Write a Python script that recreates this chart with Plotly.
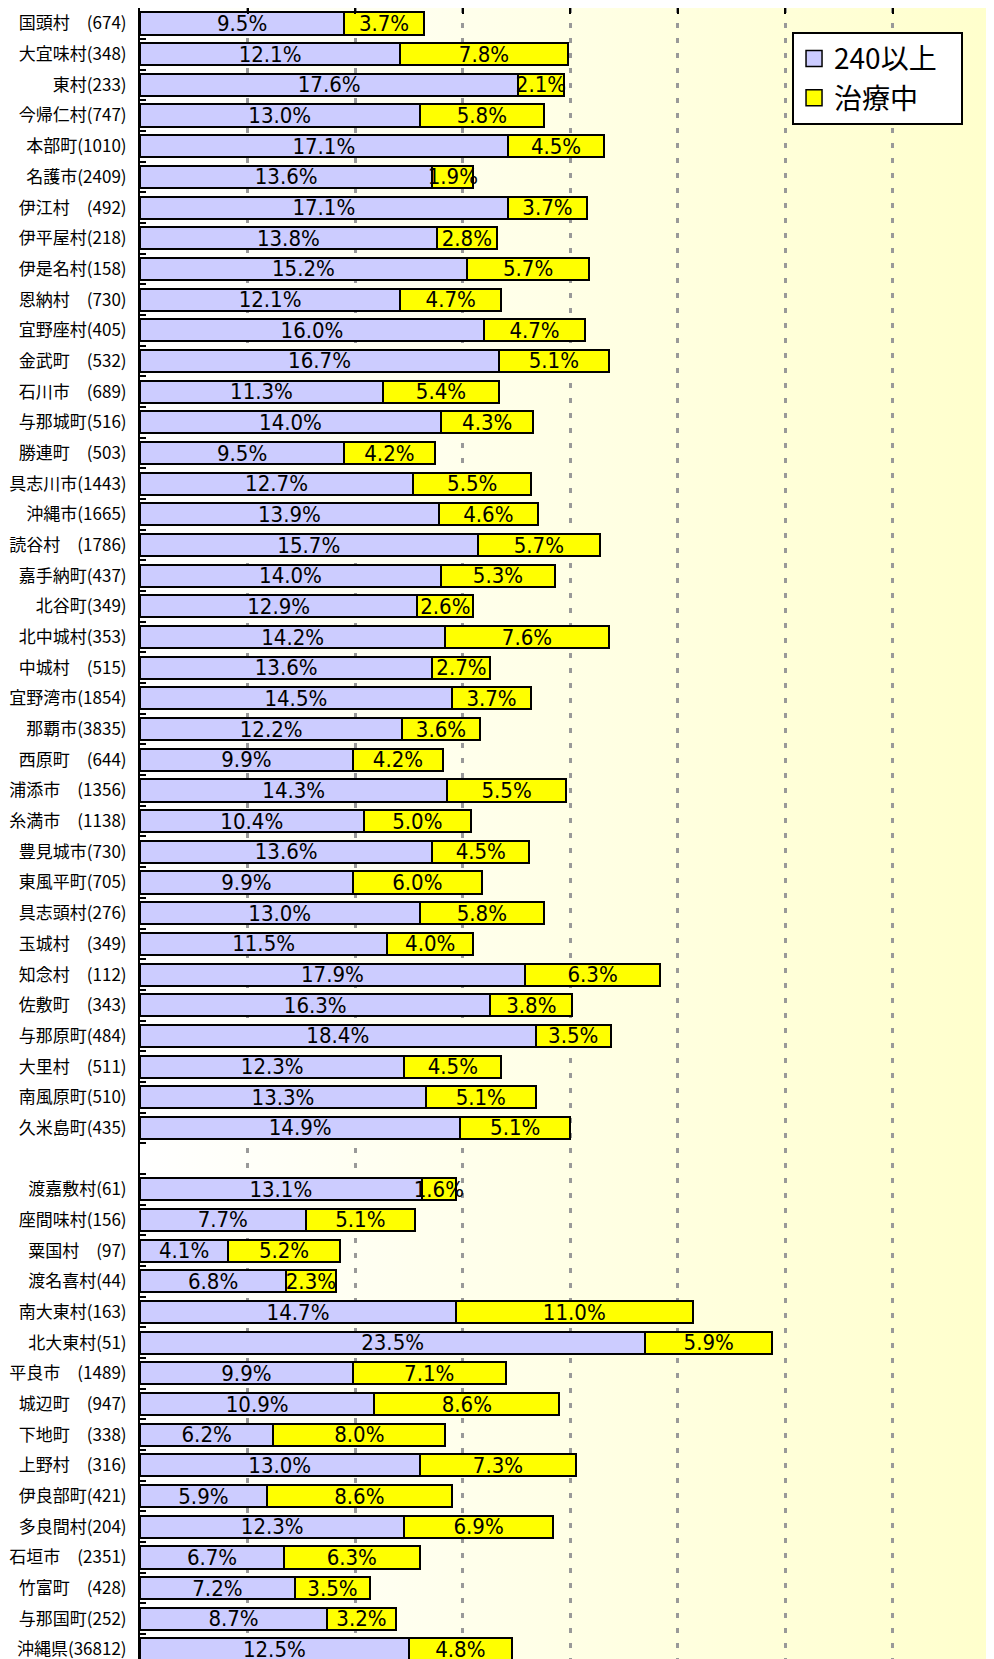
import base64
import plotly.graph_objects as go

# ---- data ----
labels = [
    "国頭村　(674)", "大宜味村(348)", "東村(233)", "今帰仁村(747)", "本部町(1010)",
    "名護市(2409)", "伊江村　(492)", "伊平屋村(218)", "伊是名村(158)", "恩納村　(730)",
    "宜野座村(405)", "金武町　(532)", "石川市　(689)", "与那城町(516)", "勝連町　(503)",
    "具志川市(1443)", "沖縄市(1665)", "読谷村　(1786)", "嘉手納町(437)", "北谷町(349)",
    "北中城村(353)", "中城村　(515)", "宜野湾市(1854)", "那覇市(3835)", "西原町　(644)",
    "浦添市　(1356)", "糸満市　(1138)", "豊見城市(730)", "東風平町(705)", "具志頭村(276)",
    "玉城村　(349)", "知念村　(112)", "佐敷町　(343)", "与那原町(484)", "大里村　(511)",
    "南風原町(510)", "久米島町(435)", " ",
    "渡嘉敷村(61)", "座間味村(156)", "粟国村　(97)", "渡名喜村(44)", "南大東村(163)",
    "北大東村(51)", "平良市　(1489)", "城辺町　(947)", "下地町　(338)", "上野村　(316)",
    "伊良部町(421)", "多良間村(204)", "石垣市　(2351)", "竹富町　(428)", "与那国町(252)",
    "沖縄県(36812)",
]
over240 = [
    9.5, 12.1, 17.6, 13.0, 17.1, 13.6, 17.1, 13.8, 15.2, 12.1,
    16.0, 16.7, 11.3, 14.0, 9.5, 12.7, 13.9, 15.7, 14.0, 12.9,
    14.2, 13.6, 14.5, 12.2, 9.9, 14.3, 10.4, 13.6, 9.9, 13.0,
    11.5, 17.9, 16.3, 18.4, 12.3, 13.3, 14.9, None,
    13.1, 7.7, 4.1, 6.8, 14.7, 23.5, 9.9, 10.9, 6.2, 13.0,
    5.9, 12.3, 6.7, 7.2, 8.7, 12.5,
]
treating = [
    3.7, 7.8, 2.1, 5.8, 4.5, 1.9, 3.7, 2.8, 5.7, 4.7,
    4.7, 5.1, 5.4, 4.3, 4.2, 5.5, 4.6, 5.7, 5.3, 2.6,
    7.6, 2.7, 3.7, 3.6, 4.2, 5.5, 5.0, 4.5, 6.0, 5.8,
    4.0, 6.3, 3.8, 3.5, 4.5, 5.1, 5.1, None,
    1.6, 5.1, 5.2, 2.3, 11.0, 5.9, 7.1, 8.6, 8.0, 7.3,
    8.6, 6.9, 6.3, 3.5, 3.2, 4.8,
]
series_names = ["240以上", "治療中"]
x_ticks = [0, 5, 10, 15, 20, 25, 30, 35]


def fmt(vals):
    return ["" if v is None else f"{v:.1f}%" for v in vals]


NARROW = "DejaVu Sans Condensed, Roboto, Noto Sans CJK JP, sans-serif"
CJK = "Noto Sans CJK JP, sans-serif"

fig = go.Figure()
colors = ["#CCCCFF", "#FFFF00"]
for name, vals, col in zip(series_names, [over240, treating], colors):
    fig.add_trace(go.Bar(
        y=labels, x=vals, orientation="h", name=name,
        marker=dict(color=col, line=dict(color="black", width=2)),
        text=fmt(vals), textposition="inside", insidetextanchor="middle",
        constraintext="none", cliponaxis=True,
        textfont=dict(family=NARROW, size=22, color="black"),
        showlegend=False, hoverinfo="skip",
    ))

# legend entries
for name, col in zip(series_names, colors):
    fig.add_trace(go.Scatter(
        x=[None], y=[None], mode="markers", name=name + "\u00a0\u00a0\u00a0",
        marker=dict(symbol="square", size=16, color=col,
                    line=dict(color="black", width=1.5)),
    ))

svg = ("<svg xmlns='http://www.w3.org/2000/svg' width='100' height='100' "
       "viewBox='0 0 100 100' preserveAspectRatio='none'>"
       "<defs><linearGradient id='g' x1='0' y1='0' x2='1' y2='0'>"
       "<stop offset='0' stop-color='#FFFFFF'/>"
       "<stop offset='1' stop-color='#FFFFCC'/>"
       "</linearGradient></defs>"
       "<rect x='0' y='0' width='100' height='100' fill='url(#g)'/></svg>")
uri = "data:image/svg+xml;base64," + base64.b64encode(svg.encode()).decode()

fig.update_layout(
    width=986, height=1651,
    margin=dict(l=132, r=0, t=0, b=0, autoexpand=False),
    barmode="stack", bargap=0.28,
    paper_bgcolor="white", plot_bgcolor="rgba(0,0,0,0)",
    images=[dict(source=uri, xref="paper", yref="paper", x=0, y=1,
                 sizex=1, sizey=1, sizing="stretch", layer="below",
                 xanchor="left", yanchor="top")],
    legend=dict(x=0.7635, y=0.9856, xanchor="left", yanchor="top",
                traceorder="normal",
                bgcolor="white", bordercolor="black", borderwidth=2,
                font=dict(family="Noto Sans CJK JP", size=28, color="black"),
                tracegroupgap=0),
    xaxis=dict(range=[0, 39.72], side="top", tickmode="array", tickvals=x_ticks,
               showticklabels=False, ticks="inside", ticklen=6, tickwidth=2,
               tickcolor="black", showline=True, linecolor="black", linewidth=2,
               showgrid=True, gridcolor="#999999", gridwidth=2.5,
               griddash="5px,10px", zeroline=False, automargin=False),
    yaxis=dict(type="category", categoryorder="array", categoryarray=labels,
               range=[53.31, -0.505], tickson="boundaries", ticks="inside",
               ticklen=6, tickwidth=2, tickcolor="black", showline=True,
               linecolor="black", linewidth=2, showgrid=False, zeroline=False,
               tickfont=dict(family=CJK, size=17, color="black"),
               ticklabelstandoff=8, automargin=False),
)

fig.write_html("out.html")
